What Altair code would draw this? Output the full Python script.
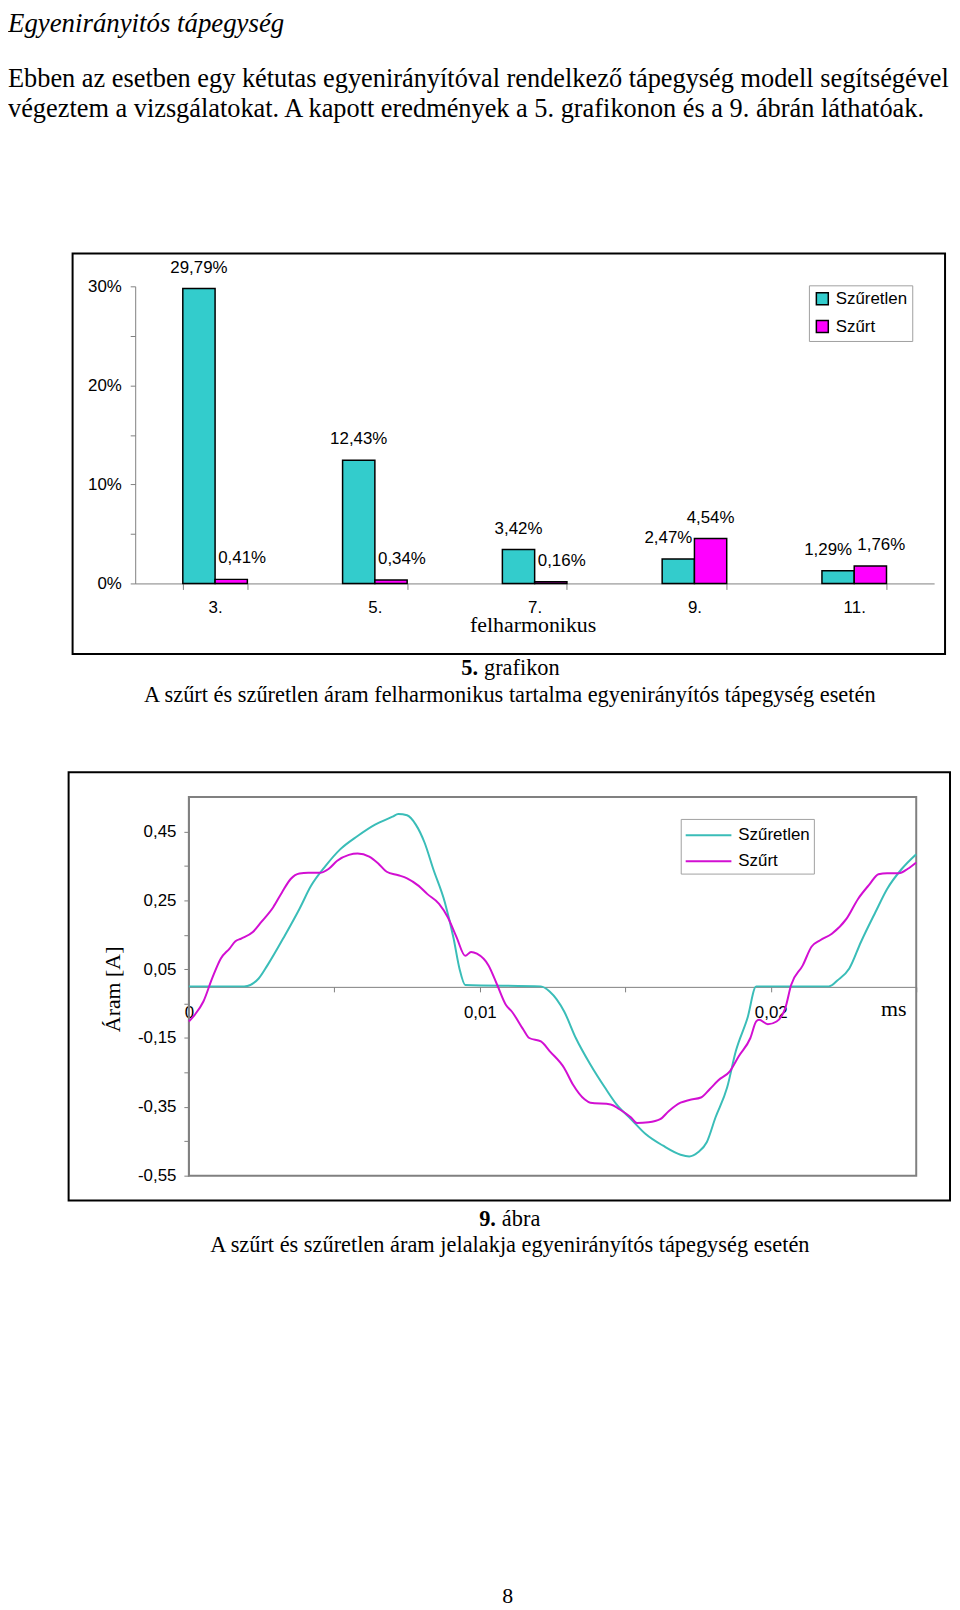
import altair as alt
import pandas as pd

# ---------------- text content ----------------
TITLE = "Egyenirányitós tápegység"
PARAGRAPH = [
    "Ebben az esetben egy kétutas egyenirányítóval rendelkező tápegység modell segítségével",
    "végeztem a vizsgálatokat. A kapott eredmények  a 5. grafikonon és a 9. ábrán láthatóak.",
]
CAPTION1_NUM = "5."
CAPTION1_WORD = "grafikon"
CAPTION1_TEXT = "A szűrt és szűretlen áram felharmonikus tartalma egyenirányítós tápegység esetén"
CAPTION2_NUM = "9."
CAPTION2_WORD = "ábra"
CAPTION2_TEXT = "A szűrt és szűretlen áram jelalakja egyenirányítós tápegység esetén"
PAGE_NUMBER = "8"

# ---------------- bar chart data ----------------
HARMONICS = ["3.", "5.", "7.", "9.", "11."]
SERIES = ["Szűretlen", "Szűrt"]
UNFILTERED_PCT = [29.79, 12.43, 3.42, 2.47, 1.29]
FILTERED_PCT = [0.41, 0.34, 0.16, 4.54, 1.76]
BAR_Y_DOMAIN = [0, 30]
BAR_Y_TICKS = [0, 5, 10, 15, 20, 25, 30]

# ---------------- waveform data ----------------
T_UNFILTERED = [0.0, 0.0019, 0.0024, 0.0027, 0.0033, 0.0038, 0.0042, 0.0047, 0.0052, 0.0058,
                0.0064, 0.0070, 0.0072, 0.0075, 0.0078, 0.0081, 0.0084, 0.0088, 0.0091, 0.0093,
                0.0095, 0.0121, 0.0124, 0.0129, 0.0133, 0.0138, 0.0143, 0.0147, 0.0152, 0.0157,
                0.0163, 0.0169, 0.0172, 0.0175, 0.0178, 0.0181, 0.0185, 0.0188, 0.0192, 0.0195,
                0.0220, 0.0223, 0.0227, 0.0231, 0.0236, 0.0240, 0.0245, 0.0250]
I_UNFILTERED = [0.0, 0.0, 0.023, 0.061, 0.148, 0.225, 0.292, 0.350, 0.398, 0.437,
                0.470, 0.493, 0.501, 0.497, 0.470, 0.418, 0.341, 0.244, 0.139, 0.052,
                0.004, 0.0, -0.015, -0.073, -0.150, -0.227, -0.294, -0.343, -0.386, -0.429,
                -0.463, -0.489, -0.494, -0.482, -0.453, -0.381, -0.294, -0.188, -0.092, 0.0,
                0.0, 0.018, 0.052, 0.129, 0.216, 0.283, 0.341, 0.384]
T_FILTERED = [0.0, 0.0002, 0.0005, 0.0008, 0.0011, 0.0014, 0.0016, 0.0018, 0.0022, 0.0025,
              0.0029, 0.0032, 0.0035, 0.0038, 0.0041, 0.0045, 0.0048, 0.0051, 0.0055, 0.0058,
              0.0062, 0.0065, 0.0068, 0.0072, 0.0075, 0.0079, 0.0082, 0.0086, 0.0089, 0.0092,
              0.0095, 0.0097, 0.0099, 0.0103, 0.0106, 0.0109, 0.0111, 0.0115, 0.0117, 0.0121,
              0.0124, 0.0129, 0.0132, 0.0136, 0.0138, 0.0145, 0.0148, 0.0152, 0.0154, 0.0158,
              0.0162, 0.0165, 0.0169, 0.0172, 0.0176, 0.0179, 0.0182, 0.0186, 0.0189, 0.0193,
              0.0195, 0.0196, 0.0199, 0.0202, 0.0205, 0.0207, 0.0211, 0.0214, 0.0217, 0.0221,
              0.0226, 0.0230, 0.0234, 0.0237, 0.0240, 0.0244, 0.0247, 0.0250]
I_FILTERED = [-0.102, -0.083, -0.044, 0.023, 0.081, 0.110, 0.131, 0.139, 0.158, 0.188,
              0.230, 0.273, 0.312, 0.328, 0.330, 0.330, 0.341, 0.365, 0.382, 0.386,
              0.377, 0.358, 0.333, 0.323, 0.314, 0.292, 0.268, 0.240, 0.201, 0.143,
              0.089, 0.100, 0.095, 0.061, 0.004, -0.054, -0.073, -0.126, -0.150, -0.160,
              -0.188, -0.237, -0.285, -0.328, -0.338, -0.343, -0.357, -0.381, -0.397, -0.395,
              -0.386, -0.362, -0.338, -0.330, -0.323, -0.299, -0.273, -0.246, -0.203, -0.150,
              -0.102, -0.097, -0.110, -0.102, -0.063, 0.004, 0.061, 0.115, 0.134, 0.153,
              0.196, 0.254, 0.297, 0.326, 0.329, 0.329, 0.341, 0.360]
T_DOMAIN = [0, 0.025]
I_DOMAIN = [-0.55, 0.55]
LINE_X_TICKS = [0, 0.005, 0.01, 0.015, 0.02, 0.025]
LINE_Y_TICKS = [-0.55, -0.45, -0.35, -0.25, -0.15, -0.05, 0.05, 0.15, 0.25, 0.35, 0.45]

# ---------------- styling ----------------
SANS = "Liberation Sans"
SERIF = "Liberation Serif"
W, H = 950, 1602
BAR_COLORS = ["#33CCCC", "#FF00FF"]
LINE_COLORS = ["#3ABDB8", "#D20FD2"]
AXIS_GRAY = "#808080"

# ---------------- tables ----------------
bar_df = pd.DataFrame({
    "harm": HARMONICS * 2,
    "series": [SERIES[0]] * len(HARMONICS) + [SERIES[1]] * len(HARMONICS),
    "value": UNFILTERED_PCT + FILTERED_PCT,
    "other": FILTERED_PCT + UNFILTERED_PCT,
})
line_df = pd.concat([
    pd.DataFrame({"t": T_UNFILTERED, "i": I_UNFILTERED, "series": SERIES[0]}),
    pd.DataFrame({"t": T_FILTERED, "i": I_FILTERED, "series": SERIES[1]}),
], ignore_index=True)
frame_df = pd.DataFrame({"x0": [T_DOMAIN[0]], "x1": [T_DOMAIN[1]],
                         "y0": [I_DOMAIN[0]], "y1": [I_DOMAIN[1]]})
one = pd.DataFrame({"k": [0]})

# ---------------- bar chart ----------------
bar_x = alt.X(
    "harm:N",
    scale=alt.Scale(domain=HARMONICS, range=[128, 932], paddingInner=0.596, paddingOuter=0.298),
    axis=alt.Axis(orient="bottom", offset=574 - H, labelAngle=0, labelFont=SANS, labelFontSize=17,
                  labelColor="black", labelPadding=10, tickBand="extent", tickSize=6,
                  tickColor=AXIS_GRAY, domainColor=AXIS_GRAY, grid=False,
                  title="felharmonikus", titleFont=SERIF, titleFontSize=22,
                  titleFontWeight="normal", titleColor="black", titleX=528, titleY=48,
                  titleAlign="center", titleBaseline="alphabetic"),
)
bar_y = alt.Y(
    "value:Q",
    scale=alt.Scale(domain=BAR_Y_DOMAIN, range=[574, 275], nice=False),
    axis=alt.Axis(orient="left", offset=-128, values=BAR_Y_TICKS, title=None, grid=False,
                  labelExpr="datum.value % 10 == 0 ? datum.value + '%' : ''",
                  labelFont=SANS, labelFontSize=17, labelColor="black", labelPadding=9,
                  tickSize=5, tickColor=AXIS_GRAY, domainColor=AXIS_GRAY,
                  labelOverlap=False, labelFlush=False),
)
bar_xoff = alt.XOffset("series:N", scale=alt.Scale(domain=SERIES))
bar_color = alt.Color(
    "series:N",
    scale=alt.Scale(domain=SERIES, range=BAR_COLORS),
    legend=alt.Legend(orient="none", legendX=806, legendY=274, title=None,
                      symbolType="square", symbolSize=144, symbolStrokeColor="black",
                      symbolStrokeWidth=1.5, symbolOpacity=1, labelFont=SANS, labelFontSize=17,
                      labelColor="black", labelOffset=5, padding=5, rowPadding=9,
                      strokeColor="#A0A0A0", fillColor="white"),
)

bar_base = alt.Chart(bar_df).transform_calculate(
    label="replace(format(datum.value, '.2f'), '.', ',') + '%'"
)
bars = bar_base.mark_bar(stroke="black", strokeWidth=1.5, opacity=1).encode(
    x=bar_x, xOffset=bar_xoff, y=bar_y, color=bar_color
)


def bar_labels(cond, dx):
    return bar_base.transform_filter(cond).mark_text(
        font=SANS, fontSize=17, color="black", baseline="middle", dy=-21, dx=dx
    ).encode(x=bar_x, xOffset=bar_xoff, y=bar_y, text="label:N")


labels = [
    bar_labels("datum.series == 'Szűretlen' && datum.value >= datum.other", 0),
    bar_labels("datum.series == 'Szűretlen' && datum.value < datum.other", -10),
    bar_labels("datum.series == 'Szűrt' && datum.value - datum.other < 1", 11),
    bar_labels("datum.series == 'Szűrt' && datum.value - datum.other >= 1", 0),
]
bar_chart = alt.layer(bars, *labels)

# ---------------- line chart ----------------
x_label_expr = ("abs(datum.value * 100 - round(datum.value * 100)) < 1e-9 ? "
                "replace(format(datum.value, '.2~f'), '.', ',') : ''")
y_label_expr = ("round((datum.value + 0.55) * 10) % 2 == 0 ? "
                "replace(replace(format(datum.value, '.2f'), '.', ','), '\u2212', '-') : ''")


def line_x(field):
    return alt.X(
        field,
        scale=alt.Scale(domain=T_DOMAIN, range=[182, 914], nice=False, zero=False),
        axis=alt.Axis(orient="bottom", offset=980 - H, values=LINE_X_TICKS, labelExpr=x_label_expr,
                      labelFont=SANS, labelFontSize=17, labelColor="black", labelPadding=13,
                      tickSize=5, tickColor=AXIS_GRAY, domainColor=AXIS_GRAY, grid=False,
                      labelOverlap=False, labelFlush=False,
                      title="ms", titleFont=SERIF, titleFontSize=22, titleFontWeight="normal",
                      titleColor="black", titleX=891, titleY=29, titleAlign="center",
                      titleBaseline="alphabetic"),
    )


def line_y(field):
    return alt.Y(
        field,
        scale=alt.Scale(domain=I_DOMAIN, range=[1170, 789], nice=False, zero=False),
        axis=alt.Axis(orient="left", offset=-182, values=LINE_Y_TICKS, labelExpr=y_label_expr,
                      labelFont=SANS, labelFontSize=17, labelColor="black", labelPadding=8,
                      tickSize=5, tickColor=AXIS_GRAY, domainColor=AXIS_GRAY, grid=False,
                      labelOverlap=False, labelFlush=False,
                      title="Áram [A]", titleFont=SERIF, titleFontSize=22,
                      titleFontWeight="normal", titleColor="black", titleAngle=270,
                      titleX=-77, titleY=982, titleAlign="center", titleBaseline="middle"),
    )


plot_frame = alt.Chart(frame_df).mark_rect(
    fill="white", fillOpacity=0, stroke=AXIS_GRAY, strokeWidth=2
).encode(x=line_x("x0:Q"), x2="x1:Q", y=line_y("y0:Q"), y2="y1:Q")

lines = alt.Chart(line_df).mark_line(strokeWidth=2, interpolate="monotone").encode(
    x=line_x("t:Q"),
    y=line_y("i:Q"),
    color=alt.Color(
        "series:N",
        scale=alt.Scale(domain=SERIES, range=LINE_COLORS),
        legend=alt.Legend(orient="none", legendX=677, legendY=811, title=None,
                          symbolType="M-1,0H3", symbolSize=529, symbolStrokeWidth=2,
                          labelFont=SANS, labelFontSize=17, labelColor="black",
                          labelOffset=29, padding=4, rowPadding=5,
                          strokeColor="#A0A0A0", fillColor="white"),
    ),
    order="idx:Q",
).transform_window(idx="row_number()", groupby=["series"])

line_chart = alt.layer(plot_frame, lines)

# ---------------- frames and page text ----------------
def box(x0, x1, y0, y1):
    return alt.Chart(one).mark_rect(fill="white", fillOpacity=0, stroke="black", strokeWidth=2).encode(
        x=alt.value(x0), x2=alt.value(x1), y=alt.value(y0), y2=alt.value(y1))


def text(t, x, y, size, font=SERIF, align="left", **kw):
    return alt.Chart(one).mark_text(
        text=t, font=font, fontSize=size, align=align, baseline="alphabetic", color="black", **kw
    ).encode(x=alt.value(x), y=alt.value(y))


page_text = [
    text(TITLE, 0, 19, 27, fontStyle="italic"),
    text(PARAGRAPH, 0, 74, 26.5, lineHeight=30.5),
    text(CAPTION1_NUM, 473, 666, 22.5, align="right", fontWeight="bold"),
    text(CAPTION1_WORD, 479, 666, 22.5),
    text(CAPTION1_TEXT, 505, 693, 22.5, align="center"),
    text(CAPTION2_NUM, 491, 1221, 22.5, align="right", fontWeight="bold"),
    text(CAPTION2_WORD, 497, 1221, 22.5),
    text(CAPTION2_TEXT, 505, 1247, 22.5, align="center"),
    text(PAGE_NUMBER, 503, 1600, 22, align="center"),
]

chart = alt.layer(
    box(65, 943, 242, 645),
    box(61, 948, 764, 1195),
    bar_chart,
    line_chart,
    *page_text,
).resolve_scale(
    x="independent", y="independent", color="independent"
).resolve_axis(
    x="independent", y="independent"
).resolve_legend(
    color="independent"
).properties(
    width=W, height=H, padding=0, autosize=alt.AutoSizeParams(type="none")
).configure(background="white").configure_view(stroke="transparent", strokeWidth=0)

chart.save("out.html", embed_options={"renderer": "svg", "actions": False})
